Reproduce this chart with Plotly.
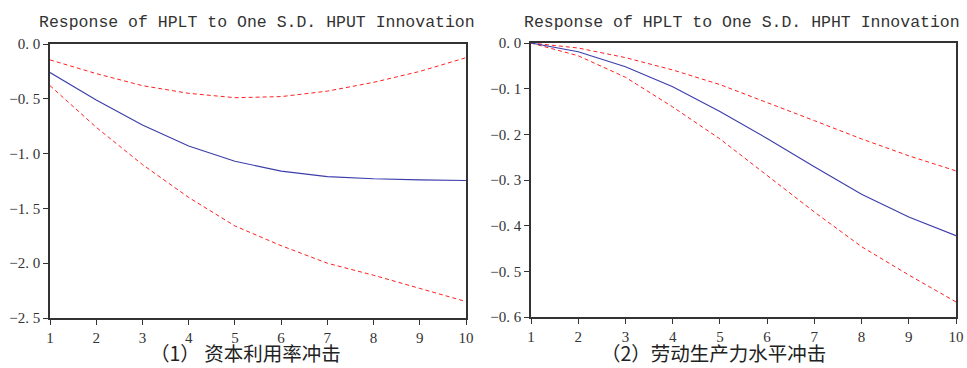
import plotly.graph_objects as go
from plotly.subplots import make_subplots

periods = [1, 2, 3, 4, 5, 6, 7, 8, 9, 10]

# Panel 1: Response of HPLT to HPUT
hput_resp = [-0.26, -0.51, -0.74, -0.93, -1.07, -1.16, -1.21, -1.23, -1.24, -1.245]
hput_upper = [-0.145, -0.27, -0.38, -0.45, -0.49, -0.48, -0.43, -0.35, -0.25, -0.125]
hput_lower = [-0.38, -0.76, -1.10, -1.40, -1.66, -1.84, -2.00, -2.11, -2.23, -2.35]

# Panel 2: Response of HPLT to HPHT
hpht_resp = [0.0, -0.019, -0.052, -0.096, -0.15, -0.209, -0.271, -0.331, -0.381, -0.422]
hpht_upper = [0.0, -0.011, -0.032, -0.059, -0.091, -0.13, -0.17, -0.21, -0.247, -0.28]
hpht_lower = [0.0, -0.028, -0.075, -0.14, -0.21, -0.29, -0.37, -0.446, -0.508, -0.567]

titles = ["Response of HPLT to One S.D. HPUT Innovation",
          "Response of HPLT to One S.D. HPHT Innovation"]
captions = ["（1） 资本利用率冲击", "（2）劳动生产力水平冲击"]

y1_vals = [0.0, -0.5, -1.0, -1.5, -2.0, -2.5]
y1_text = ["0. 0", "−0. 5", "−1. 0", "−1. 5", "−2. 0", "−2. 5"]
y2_vals = [0.0, -0.1, -0.2, -0.3, -0.4, -0.5, -0.6]
y2_text = ["0. 0", "−0. 1", "−0. 2", "−0. 3", "−0. 4", "−0. 5", "−0. 6"]

fig = make_subplots(rows=1, cols=2)

blue = "#3c3cab"
red = "#ff2020"

for col, (mid, up, lo) in enumerate([(hput_resp, hput_upper, hput_lower),
                                     (hpht_resp, hpht_upper, hpht_lower)], start=1):
    fig.add_trace(go.Scatter(x=periods, y=up, mode="lines",
                             line=dict(color=red, width=1, dash="4px,3px"),
                             showlegend=False), row=1, col=col)
    fig.add_trace(go.Scatter(x=periods, y=lo, mode="lines",
                             line=dict(color=red, width=1, dash="4px,3px"),
                             showlegend=False), row=1, col=col)
    fig.add_trace(go.Scatter(x=periods, y=mid, mode="lines",
                             line=dict(color=blue, width=1.1),
                             showlegend=False), row=1, col=col)

W, H = 967, 368
ydom = [1 - 318 / H, 1 - 44 / H]
ydom2 = [1 - 317 / H, 1 - 43 / H]

tick_font = dict(family="Liberation Serif, DejaVu Serif, serif", size=15, color="#333")
axis_common = dict(showline=True, linecolor="#333", linewidth=1.5, mirror=True,
                   ticks="outside", ticklen=5, tickcolor="#333", tickwidth=1,
                   showgrid=False, zeroline=False, tickfont=tick_font, automargin=False)

fig.update_xaxes(domain=[50 / W, 466 / W], range=[1, 10], tickvals=periods,
                 ticktext=[str(p) for p in periods], row=1, col=1, **axis_common)
fig.update_xaxes(domain=[531 / W, 956 / W], range=[1, 10], tickvals=periods,
                 ticktext=[str(p) for p in periods], row=1, col=2, **axis_common)
fig.update_yaxes(domain=ydom, range=[-2.5, 0], tickvals=y1_vals, ticktext=y1_text,
                 row=1, col=1, **axis_common)
fig.update_yaxes(domain=ydom2, range=[-0.6, 0], tickvals=y2_vals, ticktext=y2_text,
                 row=1, col=2, **axis_common)

title_font = dict(family="Liberation Mono, DejaVu Sans Mono, monospace", size=16.5, color="#333")
cap_font = dict(family="Noto Sans CJK SC", size=19.5, color="#222")

fig.add_annotation(x=257 / W, y=1 - 22 / H, xref="paper", yref="paper", text=titles[0],
                   showarrow=False, font=title_font, xanchor="center", yanchor="middle")
fig.add_annotation(x=742 / W, y=1 - 22 / H, xref="paper", yref="paper", text=titles[1],
                   showarrow=False, font=title_font, xanchor="center", yanchor="middle")
fig.add_annotation(x=245 / W, y=0, xref="paper", yref="paper", text=captions[0],
                   showarrow=False, font=cap_font, xanchor="center", yanchor="bottom",
                   borderpad=0)
fig.add_annotation(x=713 / W, y=0, xref="paper", yref="paper", text=captions[1],
                   showarrow=False, font=cap_font, xanchor="center", yanchor="bottom",
                   borderpad=0)

fig.update_layout(width=W, height=H, margin=dict(l=0, r=0, t=0, b=0, autoexpand=False),
                  paper_bgcolor="white", plot_bgcolor="white")

fig.write_html("out.html", config={"displayModeBar": False},
               post_script="document.body.style.margin='0';document.body.style.overflow='hidden';")
